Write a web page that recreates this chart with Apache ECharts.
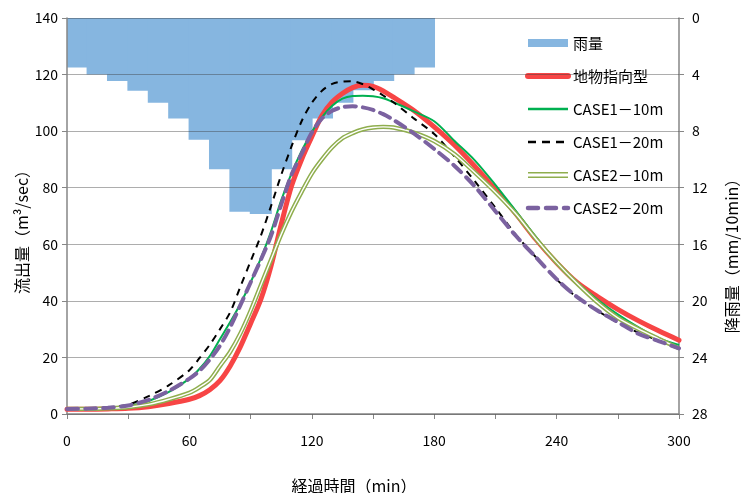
<!DOCTYPE html>
<html>
<head>
<meta charset="utf-8">
<script src="https://cdn.jsdelivr.net/npm/echarts@6/dist/echarts.min.js"></script>
<style>html,body{margin:0;padding:0;background:#fff}#c{width:742px;height:493px}</style>
</head>
<body>
<div id="c"></div>
<script>
// ---- data ----
const rainBins = ['0','10','20','30','40','50','60','70','80','90','100','110','120','130','140','150','160','170','180','190','200','210','220','230','240','250','260','270','280','290'];
const rain = [3.5, 4.0, 4.45, 5.15, 6.0, 7.1, 8.6, 10.7, 13.7, 13.85, 10.7, 8.65, 7.1, 6.0, 5.1, 4.45, 4.0, 3.5];

const times = [0,10,20,30,40,50,60,65,70,75,80,85,90,95,100,105,110,115,120,125,130,135,140,145,150,155,160,170,180,190,200,210,220,230,240,250,260,270,280,290,300];
const chibutsu = [1.7,1.7,1.8,2.0,2.6,3.7,5.2,6.5,8.6,11.8,17.0,23.8,32.0,40.5,52.3,67.0,80.5,90.0,98.0,105.5,110.3,113.3,115.4,116.2,115.8,114.2,112.0,107.3,101.5,95.0,87.5,79.3,70.8,61.6,53.5,46.5,41.5,37.0,33.0,29.4,26.1];
const case1_10 = [1.8,1.8,2.0,2.8,4.6,7.8,12.5,16.0,20.5,26.5,32.5,39.0,46.5,55.0,64.5,75.5,85.0,93.0,99.7,105.0,109.0,111.5,112.4,112.5,112.3,111.6,110.2,107.0,103.5,96.5,89.6,81.0,71.8,62.5,53.6,46.6,40.5,35.2,30.7,26.8,24.4];
const case1_20 = [1.8,1.9,2.3,3.3,6.3,10.2,15.5,19.8,24.5,30.0,36.0,45.0,54.0,63.0,73.5,84.5,94.5,103.5,110.0,114.3,116.7,117.5,117.6,116.6,114.8,112.6,110.2,104.5,99.0,91.0,82.2,72.9,63.4,55.3,47.6,41.2,36.5,32.3,28.8,26.0,23.5];
const case2_10 = [1.8,1.8,2.0,2.4,3.4,5.2,7.5,9.5,12.0,17.0,22.0,28.5,36.5,45.5,54.5,63.5,71.5,78.5,85.0,90.0,94.3,97.5,99.3,100.6,101.3,101.5,101.3,99.5,96.5,91.8,85.3,78.4,70.8,61.8,53.6,46.2,39.5,34.0,30.1,26.6,23.2];
const case2_20 = [1.8,1.9,2.2,3.0,5.0,8.2,12.5,15.3,19.3,24.2,30.7,38.5,46.5,54.5,63.0,74.0,84.5,92.0,99.5,104.5,107.2,108.5,108.8,108.4,107.5,106.0,104.0,99.2,93.7,87.7,80.4,71.7,63.0,55.3,47.7,41.4,36.6,32.5,28.4,25.8,23.2];

const flowTicks = [0,20,40,60,80,100,120,140];
const rainTicks = [0,4,8,12,16,20,24,28];
const timeLabels = [0,60,120,180,240,300];

const pair = (vals) => times.map((t, i) => [t, vals[i]]);
const FONT = '"Noto Sans CJK JP", "Noto Sans", sans-serif';
const AX = '#868686';
const RAIN = '#86B6E0';
const noSym = { opacity: 0 };
const TOP = 1; // zlevel for everything drawn over the rain bars

const chart = echarts.init(document.getElementById('c'));
chart.setOption({
  animation: false,
  backgroundColor: '#fff',
  textStyle: { fontFamily: FONT },
  grid: { left: 67, right: 63, top: 18, bottom: 79, zlevel: TOP, z: 10 },
  legend: {
    zlevel: TOP,
    orient: 'vertical', left: 520, top: 29,
    itemWidth: 40, itemHeight: 8, itemGap: 15,
    textStyle: { fontSize: 15, lineHeight: 18, color: '#000', fontFamily: FONT },
    data: [
      { name: '雨量', icon: 'rect' },
      { name: '地物指向型', itemStyle: noSym, lineStyle: { width: 6, cap: 'round' } },
      { name: 'CASE1－10m', itemStyle: noSym, lineStyle: { width: 2.5 } },
      { name: 'CASE1－20m', itemStyle: noSym, lineStyle: { width: 2.5, type: [8, 6] } },
      { name: 'CASE2－10m', icon: 'path://M0,0L40,0L40,1.6L0,1.6Z M0,4.4L40,4.4L40,6L0,6Z' },
      { name: 'CASE2－20m', itemStyle: noSym, lineStyle: { width: 4.5, type: [10, 8], cap: 'round' } }
    ]
  },
  xAxis: [
    {
      type: 'value', min: 0, max: 300, interval: 30, zlevel: TOP,
      axisLine: { lineStyle: { color: AX, width: 1.5 } },
      axisTick: { show: true, length: 5, lineStyle: { color: AX } },
      splitLine: { show: false },
      axisLabel: {
        margin: 20, fontSize: 14, color: '#000', fontFamily: FONT,
        formatter: (v) => timeLabels.indexOf(v) >= 0 ? String(v) : ''
      }
    },
    {
      type: 'category', data: rainBins, show: false, boundaryGap: true, position: 'top',
      splitLine: { show: false }, axisTick: { show: false }, axisLine: { show: false }
    }
  ],
  yAxis: [
    {
      type: 'value', min: 0, max: 140, interval: 20, zlevel: TOP, z: 10,
      axisLine: { show: true, lineStyle: { color: AX, width: 1.5 } },
      axisTick: { show: true, length: 5, lineStyle: { color: AX } },
      splitLine: { show: true, lineStyle: { color: 'rgba(60,60,60,0.42)', width: 1 } },
      axisLabel: { fontSize: 14, color: '#000', margin: 9, fontFamily: FONT,
        formatter: (v) => flowTicks.indexOf(v) >= 0 ? String(v) : '' }
    },
    {
      type: 'value', min: 0, max: 28, interval: 4, inverse: true, position: 'right', zlevel: TOP,
      axisLine: { show: true, lineStyle: { color: AX, width: 1.5 } },
      axisTick: { show: true, length: 5, lineStyle: { color: AX } },
      splitLine: { show: false },
      axisLabel: { fontSize: 14, color: '#000', margin: 13, fontFamily: FONT,
        formatter: (v) => rainTicks.indexOf(v) >= 0 ? String(v) : '' }
    }
  ],
  series: [
    {
      name: '雨量', type: 'bar', xAxisIndex: 1, yAxisIndex: 1, data: rain,
      barWidth: '108%', barGap: '0%', zlevel: 0, z: 0,
      itemStyle: { color: RAIN, borderWidth: 0 }
    },
    {
      name: '地物指向型', type: 'line', data: pair(chibutsu), symbol: 'none', smooth: 0.3, zlevel: TOP,
      lineStyle: { color: '#F74545', width: 5, cap: 'round' }, itemStyle: { color: '#F74545' }, z: 13
    },
    {
      name: 'CASE1－10m', type: 'line', data: pair(case1_10), symbol: 'none', smooth: 0.3, zlevel: TOP,
      lineStyle: { color: '#00B050', width: 2 }, itemStyle: { color: '#00B050' }, z: 14
    },
    {
      name: 'CASE1－20m', type: 'line', data: pair(case1_20), symbol: 'none', smooth: 0.3, zlevel: TOP,
      lineStyle: { color: '#000', width: 2, type: [7, 6] }, itemStyle: { color: '#000' }, z: 15
    },
    {
      name: 'CASE2－10m', type: 'line', data: pair(case2_10), symbol: 'none', smooth: 0.3, zlevel: TOP,
      lineStyle: { color: '#8FAE4E', width: 4.4 }, itemStyle: { color: '#8FAE4E' }, z: 16
    },
    {
      name: 'CASE2－10m_inner', type: 'line', data: pair(case2_10), symbol: 'none', smooth: 0.3, zlevel: TOP,
      lineStyle: { color: '#fff', width: 1.4 }, itemStyle: { color: '#fff' }, z: 17, silent: true
    },
    {
      name: 'CASE2－20m', type: 'line', data: pair(case2_20), symbol: 'none', smooth: 0.3, zlevel: TOP,
      lineStyle: { color: '#7B62A0', width: 4, type: [11, 7], cap: 'round' }, itemStyle: { color: '#7B62A0' }, z: 18
    }
  ],
  graphic: [
    { type: 'text', x: 22, y: 228, rotation: Math.PI / 2, zlevel: TOP,
      style: { text: '流出量（m³/sec）', font: '16px ' + FONT, fill: '#000', textAlign: 'center', textVerticalAlign: 'middle' } },
    { type: 'text', x: 732, y: 252, rotation: Math.PI / 2, zlevel: TOP,
      style: { text: '降雨量（mm/10min）', font: '16px ' + FONT, fill: '#000', textAlign: 'center', textVerticalAlign: 'middle' } },
    { type: 'text', x: 354, y: 486, zlevel: TOP,
      style: { text: '経過時間（min）', font: '16px ' + FONT, fill: '#000', textAlign: 'center', textVerticalAlign: 'middle' } }
  ]
});
</script>
</body>
</html>
